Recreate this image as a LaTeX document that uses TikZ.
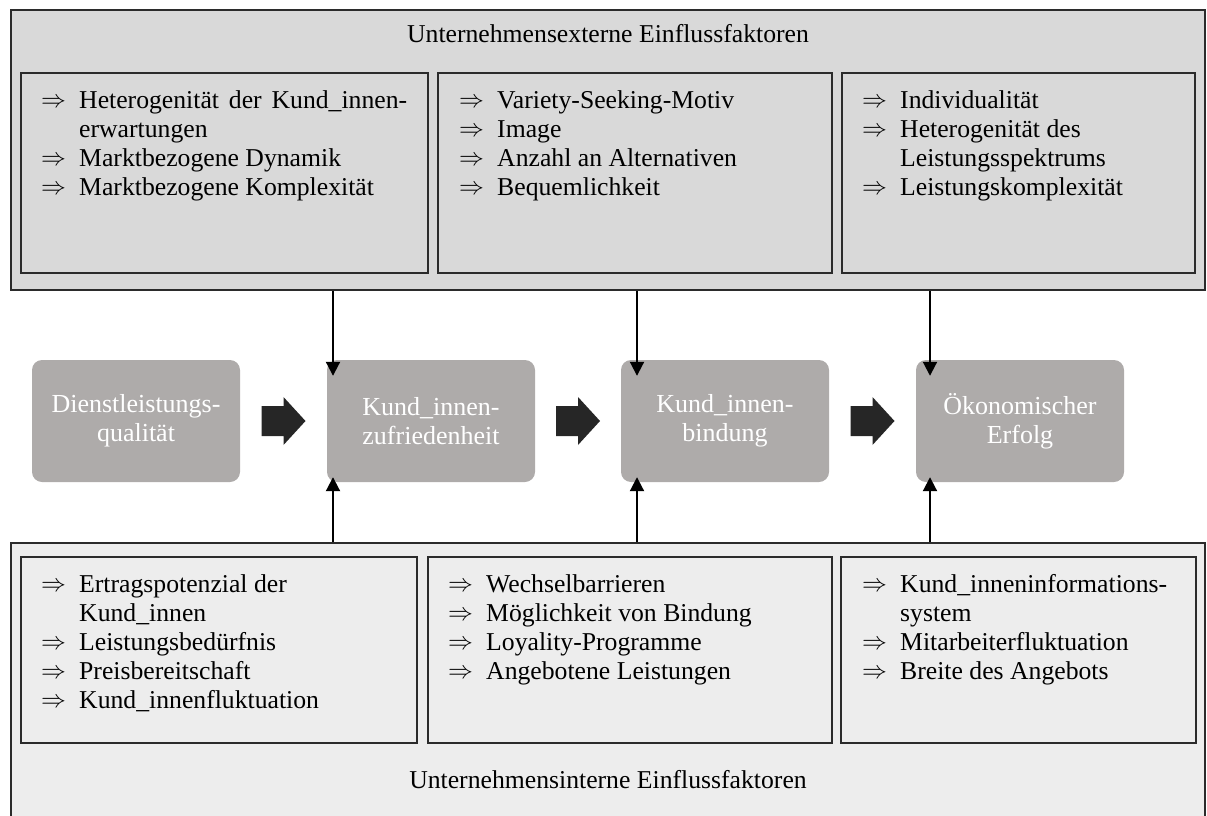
\documentclass[tikz,border=0pt]{standalone}
\usepackage{fontspec}
\setmainfont{Liberation Serif}
\usetikzlibrary{arrows.meta}
\definecolor{extfill}{HTML}{D9D9D9}
\definecolor{intfill}{HTML}{EDEDED}
\definecolor{boxgray}{HTML}{AEABAA}
\definecolor{framecol}{HTML}{2B2B2B}
\definecolor{fatcol}{HTML}{262626}
\newcommand{\itmarrow}{\raisebox{1pt}{\fontsize{25}{25}\selectfont$\Rightarrow$}}
\newenvironment{itemlist}{\fontsize{25.7}{29}\selectfont\begin{tabular}{@{}p{38pt}@{}l@{}}}{\end{tabular}}
\tikzset{
  outerbox/.style={draw=framecol, line width=1.5pt, rectangle, inner sep=0pt},
  listbox/.style={draw=framecol, line width=1.5pt, rectangle, inner sep=0pt},
  listtxt/.style={anchor=north west, inner sep=0pt, text=black},
  boxtitle/.style={anchor=base, inner sep=0pt, font=\fontsize{25.7}{29}\selectfont},
  midbox/.style={rectangle, rounded corners=10pt, fill=boxgray, draw=none, minimum width=208pt, minimum height=122pt, text=white, align=center, inner sep=0pt, font=\fontsize{26}{29}\selectfont},
  vline/.style={line width=2pt, -{Triangle[length=14pt,width=14pt]}},
  fat/.style={fill=fatcol}
}
\begin{document}
\begin{tikzpicture}[x=1pt,y=-1pt]
\clip (0,0) rectangle (1207,816);
% outer boxes
\node[outerbox, fill=extfill, minimum width=1194pt, minimum height=280pt] (ext) at (608,150) {};
\node[outerbox, fill=intfill, minimum width=1194pt, minimum height=290pt] (int) at (608,688) {};
\node[boxtitle] (extt) at (608,43) {Unternehmensexterne Einflussfaktoren};
\node[boxtitle] (intt) at (608,788) {Unternehmensinterne Einflussfaktoren};
% top inner boxes
\node[listbox, minimum width=407pt, minimum height=200pt] (e1) at (224.5,173) {};
\node[listbox, minimum width=394pt, minimum height=200pt] (e2) at (635,173) {};
\node[listbox, minimum width=353pt, minimum height=200pt] (e3) at (1018.5,173) {};
% bottom inner boxes
\node[listbox, minimum width=396pt, minimum height=186pt] (i1) at (219,650) {};
\node[listbox, minimum width=404pt, minimum height=186pt] (i2) at (630,650) {};
\node[listbox, minimum width=355pt, minimum height=186pt] (i3) at (1018.5,650) {};
% list texts
\node[listtxt] (te1) at (41,87.7) {\begin{itemlist}
\itmarrow & \hbox to 328pt{Heterogenität\hfill der\hfill Kund\_innen-}\\
 & erwartungen\\
\itmarrow & Marktbezogene Dynamik\\
\itmarrow & Marktbezogene Komplexität
\end{itemlist}};
\node[listtxt] (te2) at (459,87.7) {\begin{itemlist}
\itmarrow & Variety-Seeking-Motiv\\
\itmarrow & Image\\
\itmarrow & Anzahl an Alternativen\\
\itmarrow & Bequemlichkeit
\end{itemlist}};
\node[listtxt] (te3) at (862,87.7) {\begin{itemlist}
\itmarrow & Individualität\\
\itmarrow & Heterogenität des\\
 & Leistungsspektrums\\
\itmarrow & Leistungskomplexität
\end{itemlist}};
\node[listtxt] (ti1) at (41,571.7) {\begin{itemlist}
\itmarrow & Ertragspotenzial der\\
 & Kund\_innen\\
\itmarrow & Leistungsbedürfnis\\
\itmarrow & Preisbereitschaft\\
\itmarrow & Kund\_innenfluktuation
\end{itemlist}};
\node[listtxt] (ti2) at (448,571.7) {\begin{itemlist}
\itmarrow & Wechselbarrieren\\
\itmarrow & Möglichkeit von Bindung\\
\itmarrow & Loyality-Programme\\
\itmarrow & Angebotene Leistungen
\end{itemlist}};
\node[listtxt] (ti3) at (862,571.7) {\begin{itemlist}
\itmarrow & Kund\_inneninformations-\\
 & system\\
\itmarrow & Mitarbeiterfluktuation\\
\itmarrow & Breite des Angebots
\end{itemlist}};
% middle chain
\node[midbox] (m1) at (136,421) {Dienstleistungs-\\qualität};
\node[midbox] (m2) at (431,421) {Kund\_innen-\\zufriedenheit};
\node[midbox] (m3) at (725,421) {Kund\_innen-\\bindung};
\node[midbox] (m4) at (1020,421) {Ökonomischer\\Erfolg};
% fat arrows
\foreach \a/\b/\n in {m1/m2/f1, m2/m3/f2, m3/m4/f3}{
  \path (\a.east) -- (\b.west) coordinate[pos=0.5] (\n);
  \fill[fat] (\n) ++(-22,-15) -- ++(22,0) -- ++(0,-9) -- ++(22,24) -- ++(-22,24) -- ++(0,-9) -- ++(-22,0) -- cycle;
}
% vertical connectors
\coordinate (x1) at (333,0);
\coordinate (x2) at (637,0);
\coordinate (x3) at (930,0);
\draw[vline, shorten >=-16pt] (ext.south -| x1) -- (m2.north -| x1);
\draw[vline, shorten >=-16pt] (ext.south -| x2) -- (m3.north -| x2);
\draw[vline, shorten >=-16pt] (ext.south -| x3) -- (m4.north -| x3);
\draw[vline, shorten >=-5pt] (int.north -| x1) -- (m2.south -| x1);
\draw[vline, shorten >=-5pt] (int.north -| x2) -- (m3.south -| x2);
\draw[vline, shorten >=-5pt] (int.north -| x3) -- (m4.south -| x3);
\end{tikzpicture}
\end{document}
